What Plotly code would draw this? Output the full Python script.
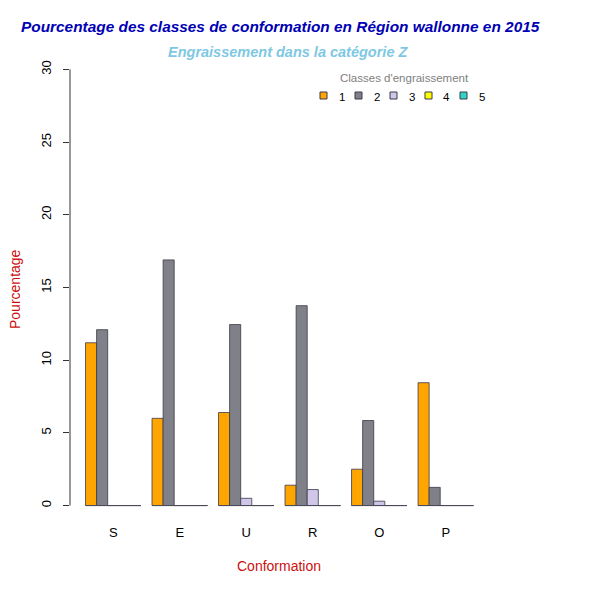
"""Pourcentage des classes de conformation, Région wallonne 2015 (catégorie Z)."""

import plotly.graph_objects as go

CONFORMATION = ["S", "E", "U", "R", "O", "P"]
CLASSES = ["1", "2", "3", "4", "5"]

# percentage per conformation, one list per fattening class
CLASS_1 = [11.2, 6.0, 6.4, 1.4, 2.5, 8.45]
CLASS_2 = [12.1, 16.9, 12.45, 13.75, 5.85, 1.25]
CLASS_3 = [0.0, 0.0, 0.5, 1.1, 0.3, 0.0]
CLASS_4 = [0.0, 0.0, 0.0, 0.0, 0.0, 0.0]
CLASS_5 = [0.0, 0.0, 0.0, 0.0, 0.0, 0.0]

Y_TICKS = [0, 5, 10, 15, 20, 25, 30]

COLORS = ["#FFA500", "#808088", "#CFC6E8", "#FFFF00", "#30D5C8"]
FONT = "Liberation Sans, Arial, sans-serif"

# figure sits 8px into the page (body margin), so size it to fit the window
W, H = 586, 585
ML, MR, MT, MB = 62, 105, 44, 70
OFF = 8
PW, PH = W - ML - MR, H - MT - MB


def xp(px):
    """page pixel -> paper x"""
    return (px - OFF - ML) / PW


def yp(py):
    """page pixel -> paper y"""
    return (H - MB - (py - OFF)) / PH


series = [CLASS_1, CLASS_2, CLASS_3, CLASS_4, CLASS_5]
n_cls = len(series)
group = n_cls + 1  # R barplot(beside=TRUE): bars of width 1, one empty slot between groups

fig = go.Figure()
for k, (name, vals) in enumerate(zip(CLASSES, series)):
    xs = [1 + group * i + k + 0.5 for i in range(len(CONFORMATION))]
    fig.add_bar(
        x=xs, y=vals, name=name, width=1, showlegend=False,
        marker=dict(color=COLORS[k], line=dict(color="#3a3a4a", width=0.8)),
    )

# zero-height bars show up as a flat line under each group in R
bx, by = [], []
for i in range(len(CONFORMATION)):
    bx += [1 + group * i, 1 + group * i + n_cls, None]
    by += [0, 0, None]
fig.add_scatter(x=bx, y=by, mode="lines", line=dict(color="#4a4a5a", width=1),
                showlegend=False, hoverinfo="skip")

centers = [1 + group * i + n_cls / 2 for i in range(len(CONFORMATION))]
x_max = 1 + group * (len(CONFORMATION) - 1) + n_cls
x_pad = (x_max - 1) * 0.04

# compact R-style legend: small boxes, tight spacing
shapes = [dict(type="line", xref="paper", yref="y", x0=0, x1=0,
               y0=Y_TICKS[0], y1=Y_TICKS[-1], line=dict(color="#333", width=1))]
annotations = [
    dict(text="<b><i>Pourcentage des classes de conformation en Région wallonne en 2015</i></b>",
         x=xp(280), y=yp(26), font=dict(size=15.4, color="#0000B4")),
    dict(text="<b><i>Engraissement dans la catégorie Z</i></b>",
         x=xp(288), y=yp(52), font=dict(size=14.5, color="#7EC8E3")),
    dict(text="Conformation", x=xp(279), y=yp(566),
         font=dict(size=14, color="#CC1010")),
    dict(text="Pourcentage", x=xp(15), y=yp(289), textangle=-90,
         font=dict(size=14, color="#CC1010")),
    dict(text="Classes d'engraissement", x=xp(404), y=yp(78),
         font=dict(size=11.5, color="#808080")),
]
leg_x0, leg_step, leg_y, box = 323.5, 35, 95.5, 3.5
for k, name in enumerate(CLASSES):
    cx = leg_x0 + k * leg_step
    shapes.append(dict(
        type="rect", xref="paper", yref="paper",
        x0=xp(cx - box), x1=xp(cx + box), y0=yp(leg_y + box), y1=yp(leg_y - box),
        fillcolor=COLORS[k], line=dict(color="#3a3a4a", width=1),
    ))
    annotations.append(dict(text=name, x=xp(cx + 18), y=yp(leg_y + 1),
                            font=dict(size=11.5, color="black")))

fig.update_layout(
    width=W, height=H,
    margin=dict(l=ML, r=MR, t=MT, b=MB),
    paper_bgcolor="white", plot_bgcolor="white",
    font=dict(family=FONT, color="black"),
    barmode="overlay", showlegend=False,
    xaxis=dict(
        range=[1 - x_pad, x_max + x_pad], tickvals=centers, ticktext=CONFORMATION,
        showgrid=False, zeroline=False, showline=False, ticks="",
        tickfont=dict(size=13),
    ),
    yaxis=dict(
        range=[-1.2, 31.2], tickvals=Y_TICKS, showgrid=False, zeroline=False,
        showline=False, ticks="outside", ticklen=6, tickcolor="#333",
        tickangle=-90, tickfont=dict(size=13), ticklabelstandoff=7,
    ),
    shapes=shapes,
    annotations=annotations,
)
fig.update_annotations(xref="paper", yref="paper", showarrow=False,
                       xanchor="center", yanchor="middle")

fig.write_html("out.html")
